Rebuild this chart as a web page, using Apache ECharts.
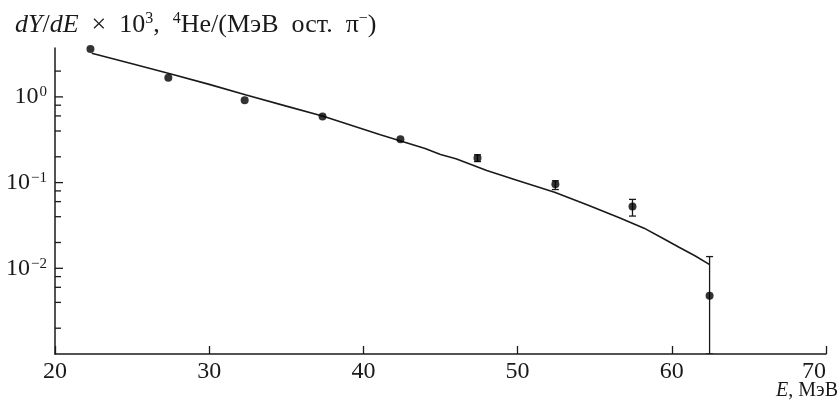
<!DOCTYPE html>
<html>
<head>
<meta charset="utf-8">
<script src="https://cdn.jsdelivr.net/npm/echarts@6/dist/echarts.min.js"></script>
<style>
html,body{margin:0;padding:0;background:#fff}
#chart{width:840px;height:407px}
</style>
</head>
<body>
<div id="chart"></div>
<script>
// экспериментальные точки (E, dY/dE) и ошибки
const ptE   = [22.3, 27.35, 32.3, 37.35, 42.4, 47.4, 52.45, 57.45, 62.45];
const ptY   = [3.62, 1.67, 0.915, 0.589, 0.32, 0.193, 0.0955, 0.0527, 0.00477];
const errE  = [47.4, 52.45, 57.45, 62.45];
const errLo = [0.176, 0.083, 0.0407, 0.001];
const errHi = [0.211, 0.105, 0.0637, 0.0137];
// расчётная кривая
const curveE = [22.38, 25, 27.4, 30, 32.4, 35, 37.4, 40, 41.1, 43, 44, 45, 46, 48, 50, 52.4, 54.5, 56.6, 58.2, 59.5, 60.5, 61.5, 62.43];
const curveY = [3.23, 2.44, 1.88, 1.40, 1.05, 0.78, 0.594, 0.42, 0.362, 0.284, 0.25, 0.213, 0.19, 0.138, 0.106, 0.077, 0.055, 0.039, 0.0294, 0.022, 0.0175, 0.0140, 0.0111];
// деления оси Y
const yMajorTicks = [1, 0.1, 0.01];
const yMinorTicks = [2, 0.8, 0.6, 0.4, 0.2, 0.08, 0.06, 0.04, 0.02, 0.008, 0.006, 0.004, 0.002];
const yLabelExp = [0, -1, -2];

const FONT = "'Liberation Serif','DejaVu Serif',serif";
const INK = '#1a1a1a';

const chart = echarts.init(document.getElementById('chart'));

const tickData = yMajorTicks.map(v => [20, v, 8]).concat(yMinorTicks.map(v => [20, v, 6]));

chart.setOption({
  animation: false,
  textStyle: {fontFamily: FONT, color: INK},
  title: [
    {text: '{i|dY}/{i|dE}  ×  10{s|3},  {s|4}He/(МэВ  ост.  π{s|−})',
     left: 15, top: 11, padding: 0,
     textStyle: {fontFamily: FONT, fontSize: 26, fontWeight: 'normal', color: INK, lineHeight: 28,
       rich: {
         i: {fontFamily: FONT, fontSize: 26, fontStyle: 'italic', color: INK},
         s: {fontFamily: FONT, fontSize: 16, color: INK, verticalAlign: 'top', lineHeight: 18}
       }}},
    {text: '{i|E}, МэВ', right: 2, top: 381, padding: 0,
     textStyle: {fontFamily: FONT, fontSize: 20, fontWeight: 'normal', color: INK,
       rich: {i: {fontFamily: FONT, fontSize: 20, fontStyle: 'italic', color: INK}}}}
  ],
  grid: {left: 55, right: 14, top: 48, bottom: 53},
  xAxis: {
    type: 'value', min: 20, max: 70, interval: 10,
    axisLine: {lineStyle: {color: INK, width: 1.5}},
    axisTick: {inside: true, length: 8, lineStyle: {color: INK, width: 1.3}},
    axisLabel: {fontFamily: FONT, fontSize: 24, color: INK, margin: 6, alignMaxLabel: 'right'},
    splitLine: {show: false}
  },
  yAxis: {
    type: 'log', logBase: 10, min: 0.001, max: 3.72,
    axisLine: {lineStyle: {color: INK, width: 1.5}},
    axisTick: {show: false},
    splitLine: {show: false},
    axisLabel: {
      fontFamily: FONT, fontSize: 24, color: INK, margin: 8,
      formatter: v => {
        const e = Math.round(Math.log10(v));
        if (Math.abs(Math.log10(v) - e) > 1e-6 || yLabelExp.indexOf(e) < 0) return '';
        return '10{s|' + (e < 0 ? '−' + (-e) : e) + '}';
      },
      rich: {s: {fontFamily: FONT, fontSize: 15, color: INK, verticalAlign: 'top', lineHeight: 15, padding: [0, 0, 0, 1]}}
    }
  },
  series: [
    {type: 'line', data: curveE.map((x, i) => [x, curveY[i]]), showSymbol: false,
     lineStyle: {color: INK, width: 1.6}, z: 2},
    {type: 'custom', clip: true, z: 3,
     data: errE.map((x, i) => [x, errLo[i], errHi[i]]),
     renderItem: (params, api) => {
       const x = api.value(0);
       const hi = api.coord([x, api.value(2)]);
       const lo = api.coord([x, api.value(1)]);
       const st = {stroke: INK, lineWidth: 1.3};
       return {type: 'group', children: [
         {type: 'line', shape: {x1: hi[0], y1: hi[1], x2: lo[0], y2: lo[1]}, style: st},
         {type: 'line', shape: {x1: hi[0] - 3.5, y1: hi[1], x2: hi[0] + 3.5, y2: hi[1]}, style: st},
         {type: 'line', shape: {x1: lo[0] - 3.5, y1: lo[1], x2: lo[0] + 3.5, y2: lo[1]}, style: st}
       ]};
     }},
    {type: 'scatter', data: ptE.map((x, i) => [x, ptY[i]]), symbol: 'circle', symbolSize: 8,
     itemStyle: {color: '#000'}, z: 4},
    // деления на оси Y (внутрь), 2,4,6,8 внутри декады
    {type: 'custom', z: 5, data: tickData,
     renderItem: (params, api) => {
       const p = api.coord([api.value(0), api.value(1)]);
       return {type: 'line', shape: {x1: p[0], y1: p[1], x2: p[0] + api.value(2), y2: p[1]},
         style: {stroke: INK, lineWidth: 1.3}};
     }}
  ]
});
</script>
</body>
</html>
